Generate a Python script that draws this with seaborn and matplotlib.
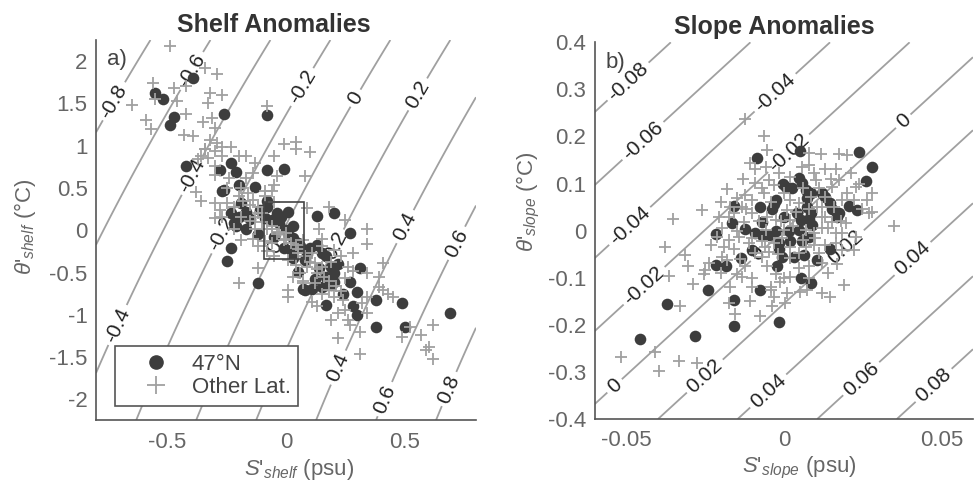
import numpy as np
import matplotlib
matplotlib.use("Agg")
import matplotlib.pyplot as plt
from matplotlib.lines import Line2D
from matplotlib.patches import Rectangle
import seaborn as sns


# ---- panel a) shelf anomalies -------------------------------------------
shelf_47_s = [-0.55, -0.52, -0.47, -0.49, -0.39, -0.26, -0.08,
              -0.42, -0.28, -0.23, -0.21, -0.20, -0.13, -0.27, -0.26, -0.08, -0.01,
              -0.19, -0.23, -0.20, -0.17, -0.22, -0.17, -0.21, -0.23, -0.25, -0.12,
              -0.08, -0.08, -0.04, -0.09, -0.06, 0.01, -0.03, 0.03, 0.01, 0.03,
              -0.01, 0.02, 0.03, 0.06, 0.10, 0.13, 0.20, 0.13, 0.15, 0.17,
              0.08, 0.05, 0.19, 0.20, 0.17, 0.20, 0.17, 0.15, 0.11, 0.08,
              0.27, 0.31, 0.27, 0.24, 0.30, 0.28, 0.30, 0.17, 0.38, 0.38,
              0.49, 0.50, 0.69, -0.12, -0.15, -0.11, 0.00, -0.05, 0.09, 0.14,
              0.22, 0.12, 0.05, -0.02, 0.07, 0.19]
shelf_47_t = [1.62, 1.55, 1.34, 1.24, 1.80, 1.38, 1.36,
              0.76, 0.71, 0.79, 0.69, 0.53, 0.51, 0.46, 0.48, 0.71, 0.73,
              0.32, 0.20, 0.16, 0.22, 0.09, 0.01, 0.05, -0.21, -0.36, -0.05,
              0.34, 0.28, 0.20, 0.14, 0.12, 0.22, 0.09, 0.05, -0.05, -0.09,
              -0.21, -0.23, -0.33, -0.19, -0.21, 0.17, 0.20, -0.17, -0.27, -0.31,
              -0.35, -0.49, -0.43, -0.51, -0.55, -0.61, -0.65, -0.67, -0.69, -0.71,
              -0.03, -0.45, -0.61, -0.75, -0.73, -0.90, -1.00, -0.88, -0.83, -1.15,
              -0.86, -1.15, -0.98, -0.62, 0.13, 0.24, 0.00, -0.08, -0.28, -0.45,
              -0.40, -0.58, -0.15, 0.16, -0.70, -0.65]

shelf_oth_s = [-0.49, -0.34, -0.29, -0.56, -0.47, -0.42, -0.55, -0.46, -0.65, -0.59,
               -0.57, -0.42, -0.33, -0.32, -0.27, -0.35, -0.31, -0.30, -0.43, -0.39,
               -0.32, -0.29, -0.08, -0.34, -0.36, -0.30, -0.27, -0.23, -0.20, -0.17,
               -0.13, -0.14, -0.05, -0.01, 0.04, 0.04, 0.10, 0.08, -0.04, -0.05,
               -0.06, -0.38, -0.36, -0.30, -0.30, -0.27, -0.19, -0.14, -0.12, -0.13,
               -0.09, -0.13, -0.19, -0.12, -0.12, -0.20, -0.06, -0.05, 0.01, 0.04,
               0.01, 0.01, 0.07, 0.11, 0.13, 0.09, 0.14, 0.18, 0.25, 0.34,
               0.34, 0.28, 0.23, 0.26, 0.34, 0.39, 0.41, 0.39, 0.43, 0.45,
               0.34, 0.32, 0.34, 0.26, 0.22, 0.19, 0.27, 0.31, 0.22, 0.31,
               0.49, 0.52, 0.57, 0.62, 0.60, 0.62, 0.59, 0.41, 0.25, 0.15,
               0.20, 0.24, 0.06, 0.13, 0.09, 0.18, -0.04, -0.01, -0.06, 0.07,
               0.11, 0.12, 0.15, 0.19, -0.22, -0.15, -0.10, -0.18, -0.25, -0.28,
               -0.22, -0.16, -0.19, -0.30, -0.33, -0.34, -0.27, -0.37, -0.08, -0.09,
               0.00, 0.04, 0.05, 0.15, 0.20,
               -0.15, -0.12, -0.10, -0.06, -0.03, 0.00, 0.02, 0.05, 0.08, 0.10,
               0.13, 0.16, 0.18, 0.21, 0.23, -0.20, -0.25, -0.24, -0.17, -0.09,
               -0.05, -0.14, -0.08, 0.03, 0.07, 0.12, 0.25, 0.28, 0.15, -0.30]
shelf_oth_t = [2.18, 1.92, 1.85, 1.74, 1.68, 1.70, 1.55, 1.53, 1.48, 1.30,
               1.20, 1.37, 1.51, 1.62, 1.60, 1.28, 1.33, 1.21, 1.13, 1.11,
               1.07, 1.03, 1.47, 0.96, 0.88, 0.94, 0.88, 0.98, 0.88, 0.88,
               0.80, 0.68, 0.88, 1.02, 1.04, 0.96, 0.92, 0.64, 0.64, 0.54,
               0.46, 0.45, 0.34, 0.32, 0.14, 0.16, 0.16, 0.36, 0.28, 0.16,
               0.40, 0.01, -0.11, -0.19, -0.45, -0.62, -0.15, -0.31, -0.35, -0.41,
               -0.71, -0.79, -0.63, -0.85, -0.90, 0.26, 0.01, 0.28, 0.12, 0.01,
               -0.16, -0.27, -0.31, -0.43, -0.51, -0.55, -0.39, -0.67, -0.75, -0.79,
               -0.79, -0.86, -0.98, -1.06, -0.98, -1.06, -1.12, -1.20, -1.28, -1.46,
               -1.26, -1.14, -1.24, -1.12, -1.38, -1.52, -1.42, -0.71, -0.94, -0.75,
               -0.79, -0.83, -0.51, -0.51, -0.43, -0.71, -0.05, -0.11, 0.01, -0.11,
               -0.27, -0.39, -0.43, -0.37, 0.01, 0.11, 0.20, 0.34, 0.32, 0.24,
               0.28, 0.44, 0.50, 0.76, 0.86, 0.96, 0.98, 0.84, 0.01, -0.13,
               -0.03, -0.17, -0.27, -0.19, -0.23,
               0.30, 0.20, 0.10, 0.05, -0.02, -0.10, -0.15, -0.22, -0.30, -0.38,
               -0.46, -0.55, -0.60, -0.66, -0.72, 0.40, 0.50, 0.62, 0.62, 0.46,
               0.33, -0.10, -0.25, -0.55, -0.60, -0.62, -0.56, -0.48, -0.10, 0.65]

# ---- panel b) slope anomalies -------------------------------------------
slope_47_s = [-0.0456, -0.0369, -0.0281, -0.0240, -0.0215, -0.0214, -0.0183, -0.0159,
              -0.0158, -0.0159, -0.0164, -0.0136, -0.0122, -0.0101, -0.0085, -0.0077,
              -0.0074, -0.0090, -0.0069, -0.0048, -0.0032, -0.0026, -0.0037, -0.0024,
              -0.0016, -0.0016, -0.0021, -0.0014, -0.0003, 0.0007, -0.0007, 0.0000,
              0.0026, 0.0050, 0.0048, 0.0042, 0.0048, 0.0021, 0.0032, 0.0058,
              0.0069, 0.0074, 0.0085, 0.0053, 0.0074, 0.0085, 0.0058, 0.0079,
              0.0090, 0.0064, 0.0055, 0.0087, 0.0106, 0.0122, 0.0132, 0.0145,
              0.0154, 0.0169, 0.0175, 0.0148, 0.0207, 0.0233, 0.0238, 0.0260,
              0.0281, 0.0016, 0.0079, -0.0069]
slope_47_t = [-0.231, -0.156, -0.224, -0.127, -0.007, -0.073, -0.076, -0.147,
              -0.202, 0.052, 0.017, -0.059, 0.003, -0.040, 0.154, 0.050,
              -0.127, -0.006, -0.009, -0.009, 0.057, 0.065, 0.047, 0.000,
              -0.027, -0.038, -0.075, -0.195, 0.099, 0.093, -0.055, 0.030,
              0.090, 0.169, 0.111, 0.037, 0.001, -0.023, -0.055, 0.101,
              0.086, 0.069, 0.079, 0.023, 0.051, 0.037, -0.023, -0.013,
              0.012, -0.052, -0.101, -0.112, -0.062, 0.079, 0.072, 0.058,
              0.047, 0.030, 0.037, -0.038, 0.052, 0.044, 0.168, 0.106,
              0.136, 0.000, 0.024, 0.019]

slope_oth_s = [-0.0516, -0.0408, -0.0397, -0.0334, -0.0275, -0.0328, -0.0376, -0.0352,
               -0.0312, -0.0305, -0.0365, -0.0289, -0.0254, -0.0207, -0.0180, -0.0175,
               -0.0154, -0.0148, -0.0122, -0.0064, -0.0106, -0.0090, -0.0058, -0.0053,
               0.0079, 0.0117, 0.0175, 0.0201, 0.0212, 0.0164, 0.0132, 0.0079,
               0.0228, 0.0265, 0.0281, 0.0350, 0.0191, 0.0148, 0.0122, 0.0074,
               0.0011, 0.0005, -0.0032, -0.0042, -0.0037, -0.0077, -0.0106, -0.0101,
               -0.0132, -0.0180, -0.0191, -0.0175, -0.0143, -0.0159, -0.0111, -0.0127,
               -0.0101, -0.0101, -0.0064, -0.0032, -0.0016, 0.0021, 0.0021, 0.0048,
               0.0101, 0.0106, 0.0132, 0.0122, 0.0164, 0.0185, 0.0228, 0.0222,
               0.0185, 0.0164, 0.0132, 0.0111, 0.0122, 0.0079, 0.0048, 0.0021,
               -0.0011, -0.0026, -0.0053, -0.0069, -0.0048, -0.0032, -0.0069, -0.0090,
               -0.0122, -0.0148, -0.0196, -0.0212, -0.0196, -0.0175, -0.0159, -0.0132,
               -0.0122, -0.0090, -0.0048, 0.0011, 0.0021, 0.0000, -0.0005, -0.0026,
               -0.0053, -0.0058, 0.0069, 0.0095, 0.0095, 0.0069, 0.0048, 0.0021,
               0.0175, 0.0154, 0.0122, 0.0185, 0.0222, 0.0249, 0.0270, 0.0154,
               0.0196, 0.0132, 0.0085, 0.0095, 0.0058, -0.0260, -0.0238, -0.0249,
               -0.012, -0.008, -0.004, 0.000, 0.004, 0.008, 0.012, 0.016, 0.006, -0.015,
               -0.010, -0.006, -0.002, 0.002, 0.006, 0.010, 0.014, -0.014, -0.010, -0.004,
               0.000, 0.008, 0.014, 0.018, 0.020, -0.020, -0.023, -0.017, 0.003, -0.001,
               0.011, 0.015, 0.024, 0.028, -0.007, -0.013, -0.020, 0.017, 0.005, -0.017]
slope_oth_t = [-0.269, -0.257, -0.297, -0.277, -0.282, -0.161, -0.034, 0.024,
               -0.052, -0.076, -0.096, -0.114, -0.091, 0.030, 0.088, -0.154,
               -0.176, 0.069, 0.237, 0.200, 0.143, 0.130, 0.136, 0.171,
               0.164, 0.163, 0.163, 0.161, 0.122, 0.132, 0.132, 0.139,
               0.093, 0.065, 0.039, 0.009, -0.115, -0.140, -0.132, -0.126,
               -0.133, -0.154, -0.140, -0.127, -0.161, -0.181, -0.149, -0.119,
               -0.098, -0.062, -0.034, -0.020, -0.013, -0.038, -0.027, 0.019,
               0.065, 0.037, 0.079, 0.097, 0.122, 0.115, 0.065, 0.058,
               0.108, 0.051, 0.030, 0.005, -0.006, -0.006, -0.013, -0.041,
               -0.041, -0.027, -0.030, -0.048, -0.069, -0.076, -0.080, -0.098,
               -0.108, -0.091, -0.076, -0.055, -0.045, -0.027, -0.023, -0.048,
               -0.076, -0.091, -0.055, -0.013, 0.005, 0.030, 0.037, 0.051,
               0.076, 0.101, 0.108, 0.044, 0.023, 0.001, -0.016, 0.023,
               0.030, 0.001, 0.001, -0.006, -0.030, -0.034, -0.048, -0.059,
               0.108, 0.093, 0.051, 0.065, 0.065, 0.047, 0.037, 0.019,
               0.016, 0.072, 0.072, 0.122, 0.136, 0.044, -0.069, -0.084,
               0.045, 0.020, 0.060, 0.080, 0.040, 0.045, 0.030, 0.050, 0.090, 0.000,
               -0.015, -0.035, -0.050, -0.035, -0.020, -0.015, 0.005, -0.060, -0.100, -0.120,
               -0.100, -0.100, -0.090, 0.020, 0.080, -0.090, -0.030, 0.050, 0.010, 0.020,
               0.090, 0.110, 0.100, 0.080, 0.090, 0.110, 0.060, -0.070, -0.130, -0.120]

shelf_levels = [-0.8, -0.6, -0.4, -0.2, 0.0, 0.2, 0.4, 0.6, 0.8]
slope_levels = [-0.08, -0.06, -0.04, -0.02, 0.0, 0.02, 0.04, 0.06, 0.08]

# density anomaly = beta*S' - alpha*T' - gamma/2*T'^2 + c
SHELF_EOS = dict(beta=0.792, alpha=0.144, gamma=0.013, c=0.009)
SLOPE_EOS = dict(beta=0.792, alpha=0.129, gamma=0.0, c=0.0)

# where clabel puts its inline labels
shelf_label_xy = [(-0.74, 1.55), (-0.40, 1.89), (0.07, 1.69), (0.30, 1.55), (0.565, 1.59),
                  (-0.39, 0.64), (-0.28, -0.03), (-0.06, -0.19), (0.21, -0.19),
                  (0.51, 0.03), (0.73, -0.17), (-0.71, -1.12), (0.20, -1.60),
                  (0.41, -1.99), (0.68, -1.87)]
slope_label_xy = [(-0.0493, 0.316), (-0.0026, 0.292), (-0.0450, 0.193), (0.0016, 0.164),
                  (0.0381, 0.231), (-0.0487, 0.0085), (0.0191, -0.030), (0.0408, -0.059),
                  (-0.0450, -0.112), (-0.0079, -0.052), (-0.0535, -0.331),
                  (-0.0249, -0.310), (-0.0042, -0.346), (0.0249, -0.317), (0.0450, -0.310)]

DARK = "#3d3d3d"
GREY = "#a0a0a0"
AXC = "#555555"
TXT = "#666666"

sns.set_style("white")
plt.rcParams.update({
    "font.family": ["Liberation Sans", "DejaVu Sans"],
    "mathtext.fontset": "custom",
    "mathtext.rm": "Liberation Sans",
    "mathtext.it": "Liberation Sans:italic",
    "axes.unicode_minus": False,
    "axes.edgecolor": AXC,
    "axes.linewidth": 1.2,
    "xtick.color": AXC,
    "ytick.color": AXC,
    "xtick.labelcolor": TXT,
    "ytick.labelcolor": TXT,
    "xtick.direction": "in",
    "ytick.direction": "in",
    "xtick.major.size": 3.5,
    "ytick.major.size": 3.5,
    "xtick.major.width": 1.0,
    "ytick.major.width": 1.0,
    "xtick.major.pad": 8,
    "ytick.major.pad": 6,
    "xtick.labelsize": 16,
    "ytick.labelsize": 16,
})


def density(S, T, beta, alpha, gamma, c):
    return beta * S - alpha * T - 0.5 * gamma * T ** 2 + c


def fmt_level(v):
    s = f"{v:g}"
    return "0" if s in ("-0", "0") else s


def draw_panel(ax, s47, t47, soth, toth, xlim, ylim, levels, eos, label_xy):
    gs = np.linspace(xlim[0], xlim[1], 300)
    gt = np.linspace(ylim[0], ylim[1], 300)
    SS, TT = np.meshgrid(gs, gt)
    cs = ax.contour(SS, TT, density(SS, TT, **eos), levels=levels,
                    colors=GREY, linewidths=1.3, linestyles="solid", zorder=1)
    ax.clabel(cs, manual=label_xy, inline=True, inline_spacing=4,
              fmt=fmt_level, fontsize=15, colors="#222222")

    sns.scatterplot(x=s47, y=t47, ax=ax, marker="o", s=70, color=DARK,
                    linewidth=0, zorder=3)
    sns.scatterplot(x=soth, y=toth, ax=ax, marker="+", s=85, color=GREY,
                    linewidth=1.3, zorder=4)

    ax.set_xlim(xlim)
    ax.set_ylim(ylim)
    sns.despine(ax=ax)


fig = plt.figure(figsize=(9.76, 4.87), dpi=100)
ax1 = fig.add_axes([0.0984, 0.1366, 0.3893, 0.7813])
ax2 = fig.add_axes([0.6093, 0.1396, 0.3876, 0.7735])

draw_panel(ax1, shelf_47_s, shelf_47_t, shelf_oth_s, shelf_oth_t,
           (-0.8, 0.8), (-2.25, 2.25), shelf_levels, SHELF_EOS, shelf_label_xy)
draw_panel(ax2, slope_47_s, slope_47_t, slope_oth_s, slope_oth_t,
           (-0.06, 0.06), (-0.4, 0.4), slope_levels, SLOPE_EOS, slope_label_xy)

ax1.add_patch(Rectangle((-0.091, -0.34), 0.167, 0.677, fill=False,
                        edgecolor="#444444", linewidth=1.2, zorder=5))

ax1.set_xticks([-0.5, 0, 0.5])
ax1.set_xticklabels(["-0.5", "0", "0.5"])
ax1.set_yticks([-2, -1.5, -1, -0.5, 0, 0.5, 1, 1.5, 2])
ax1.set_yticklabels(["-2", "-1.5", "-1", "-0.5", "0", "0.5", "1", "1.5", "2"])
ax2.set_xticks([-0.05, 0, 0.05])
ax2.set_xticklabels(["-0.05", "0", "0.05"])
ax2.set_yticks([-0.4, -0.3, -0.2, -0.1, 0, 0.1, 0.2, 0.3, 0.4])
ax2.set_yticklabels(["-0.4", "-0.3", "-0.2", "-0.1", "0", "0.1", "0.2", "0.3", "0.4"])

ax1.set_title("Shelf Anomalies", fontsize=18, fontweight="bold", color="#333333",
              x=0.467, pad=6)
ax2.set_title("Slope Anomalies", fontsize=18, fontweight="bold", color="#333333",
              x=0.475, pad=6)

ax1.set_xlabel(r"$S$'$_{shelf}$ (psu)", fontsize=16, color=TXT)
ax1.set_ylabel(r"$\theta$'$_{shelf}$ (°C)", fontsize=16, color=TXT)
ax2.set_xlabel(r"$S$'$_{slope}$ (psu)", fontsize=16, color=TXT)
ax2.set_ylabel(r"$\theta$'$_{slope}$ (°C)", fontsize=16, color=TXT)
ax1.xaxis.set_label_coords(0.534, -0.095)
ax2.xaxis.set_label_coords(0.541, -0.095)
ax1.yaxis.set_label_coords(-0.153, 0.508)
ax2.yaxis.set_label_coords(-0.138, 0.577)

ax1.text(0.03, 0.975, "a)", transform=ax1.transAxes, fontsize=16,
         color="#444444", va="top", ha="left")
ax2.text(0.03, 0.975, "b)", transform=ax2.transAxes, fontsize=16,
         color="#444444", va="top", ha="left")

handles = [Line2D([], [], ls="", marker="o", markersize=9.5, color=DARK),
           Line2D([], [], ls="", marker="+", markersize=13, markeredgewidth=1.3, color=GREY)]
leg = ax1.legend(handles, ["47°N", "Other Lat."], loc="lower left",
                 bbox_to_anchor=(0.05, 0.038), borderaxespad=0, fontsize=16,
                 frameon=True, fancybox=False, edgecolor=AXC, framealpha=1,
                 handletextpad=0.1, borderpad=0.35, labelspacing=0.1, handlelength=3.0)
leg.get_frame().set_linewidth(1.2)
for t in leg.get_texts():
    t.set_color("#444444")

fig.savefig("out.png", dpi=100)
